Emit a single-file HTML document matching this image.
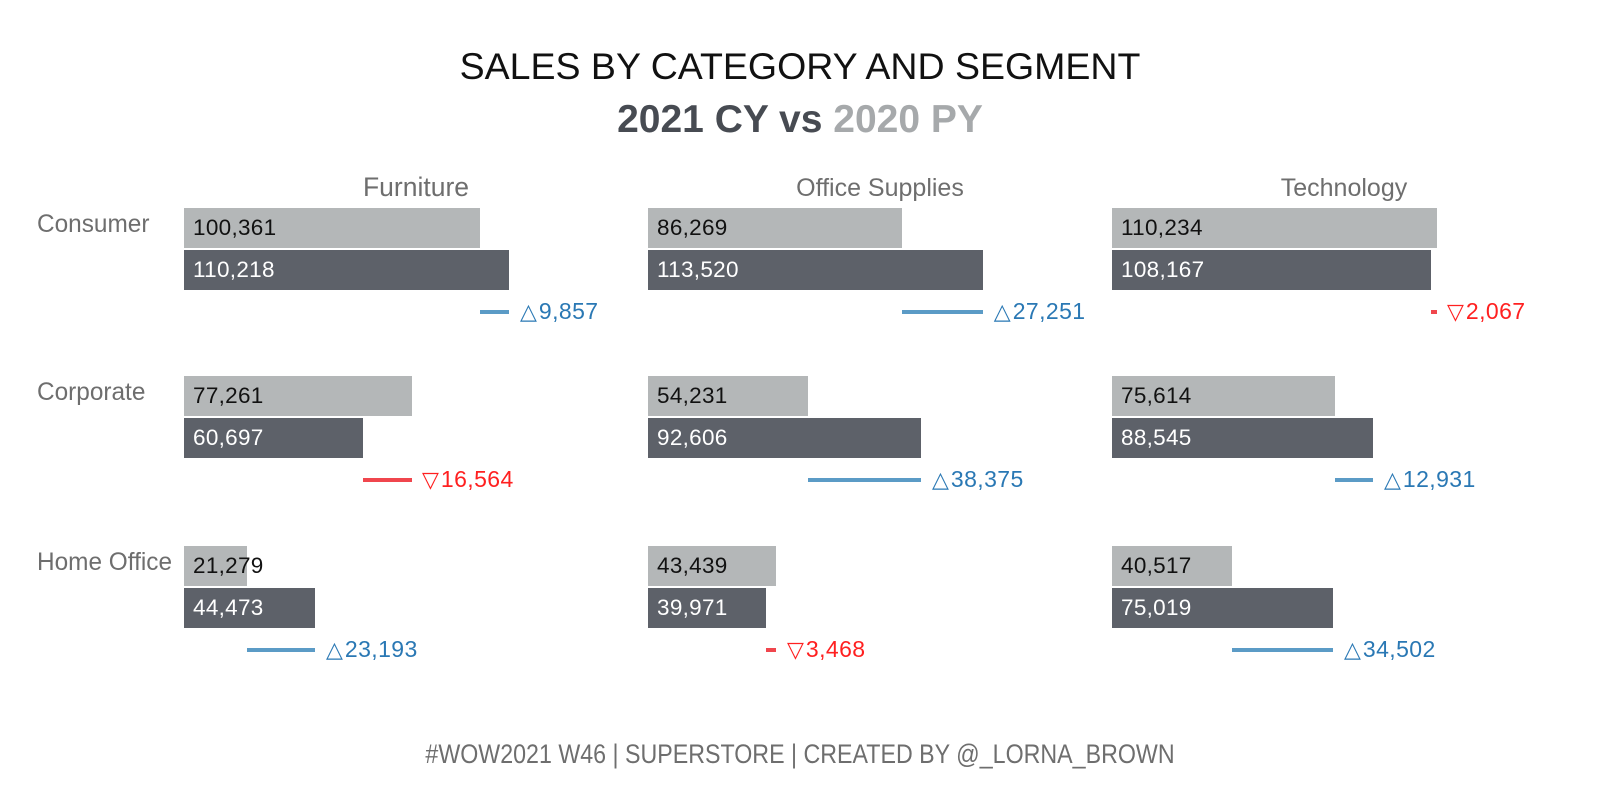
<!DOCTYPE html>
<html>
<head>
<meta charset="utf-8">
<style>
  html, body { margin:0; padding:0; }
  body { width:1600px; height:800px; background:#ffffff; position:relative; overflow:hidden;
         font-family:"Liberation Sans", "DejaVu Sans", sans-serif; }
  .abs { position:absolute; white-space:nowrap; }
  .title { left:0; width:1600px; text-align:center; top:47.5px; font-size:37.5px; line-height:37.5px; color:#111; }
  .sub { left:0; width:1600px; text-align:center; top:100.3px; font-size:39px; line-height:39px; font-weight:bold; }
  .footer { left:0; width:1600px; text-align:center; top:741px; font-size:27px; line-height:27px; color:#6e6e6e;
            transform:scaleX(0.86); transform-origin:800px 0; }
  .hdr { width:464px; text-align:center; top:175.8px; font-size:25px; line-height:25px; color:#6e6e6e; }
  .seg { left:37px; font-size:25px; line-height:25px; color:#6e6e6e; transform:scaleX(0.975); transform-origin:0 0; }
  .py { background:#b4b7b8; height:40px; }
  .cy { background:#5d6169; height:39.5px; }
  .lbl { font-size:22.5px; line-height:22.5px; letter-spacing:0.3px; }
  .lpy { color:#111; }
  .lcy { color:#fff; }
  .ln { height:4px; }
  .up { background:#5b9bc6; }
  .dn { background:#f0464d; }
  .dt { font-size:23px; line-height:23px; letter-spacing:0.4px; }
  .tu { color:#2a78b4; }
  .td { color:#ff2020; }
  .tri { font-family:"DejaVu Sans", sans-serif; font-size:22px; letter-spacing:0; margin-right:2px; }
</style>
</head>
<body>

<div class="abs title">SALES BY CATEGORY AND SEGMENT</div>
<div class="abs sub"><span style="color:#474b52">2021 CY vs</span> <span style="color:#a6a9ab">2020 PY</span></div>

<!-- column headers -->
<div class="abs hdr" style="left:184px; font-size:26.5px; top:174.6px;">Furniture</div>
<div class="abs hdr" style="left:648px">Office Supplies</div>
<div class="abs hdr" style="left:1112px">Technology</div>

<!-- segment labels -->
<div class="abs seg" style="top:211.8px">Consumer</div>
<div class="abs seg" style="top:379.8px">Corporate</div>
<div class="abs seg" style="top:549.8px">Home Office</div>

<!-- ================= ROW 1: Consumer (T=208) ================= -->
<div class="abs py" style="left:184px; top:208px; width:296px;"></div>
<div class="abs cy" style="left:184px; top:250px; width:325px;"></div>
<div class="abs lbl lpy" style="left:193px; top:217px;">100,361</div>
<div class="abs lbl lcy" style="left:193px; top:258.8px;">110,218</div>
<div class="abs ln up" style="left:480px; top:309.5px; width:29px;"></div>
<div class="abs dt tu" style="left:520px; top:300.2px;"><span class="tri">△</span>9,857</div>

<div class="abs py" style="left:648px; top:208px; width:254.4px;"></div>
<div class="abs cy" style="left:648px; top:250px; width:334.8px;"></div>
<div class="abs lbl lpy" style="left:657px; top:217px;">86,269</div>
<div class="abs lbl lcy" style="left:657px; top:258.8px;">113,520</div>
<div class="abs ln up" style="left:902.4px; top:309.5px; width:80.4px;"></div>
<div class="abs dt tu" style="left:993.8px; top:300.2px;"><span class="tri">△</span>27,251</div>

<div class="abs py" style="left:1112px; top:208px; width:325.1px;"></div>
<div class="abs cy" style="left:1112px; top:250px; width:319px;"></div>
<div class="abs lbl lpy" style="left:1121px; top:217px;">110,234</div>
<div class="abs lbl lcy" style="left:1121px; top:258.8px;">108,167</div>
<div class="abs ln dn" style="left:1431px; top:309.5px; width:6.1px;"></div>
<div class="abs dt td" style="left:1447px; top:300.2px;"><span class="tri">▽</span>2,067</div>

<!-- ================= ROW 2: Corporate (T=376) ================= -->
<div class="abs py" style="left:184px; top:376px; width:227.8px;"></div>
<div class="abs cy" style="left:184px; top:418px; width:179px;"></div>
<div class="abs lbl lpy" style="left:193px; top:385px;">77,261</div>
<div class="abs lbl lcy" style="left:193px; top:426.8px;">60,697</div>
<div class="abs ln dn" style="left:363px; top:477.5px; width:48.8px;"></div>
<div class="abs dt td" style="left:422px; top:468.2px;"><span class="tri">▽</span>16,564</div>

<div class="abs py" style="left:648px; top:376px; width:159.9px;"></div>
<div class="abs cy" style="left:648px; top:418px; width:273.1px;"></div>
<div class="abs lbl lpy" style="left:657px; top:385px;">54,231</div>
<div class="abs lbl lcy" style="left:657px; top:426.8px;">92,606</div>
<div class="abs ln up" style="left:807.9px; top:477.5px; width:113.2px;"></div>
<div class="abs dt tu" style="left:932px; top:468.2px;"><span class="tri">△</span>38,375</div>

<div class="abs py" style="left:1112px; top:376px; width:223px;"></div>
<div class="abs cy" style="left:1112px; top:418px; width:261.1px;"></div>
<div class="abs lbl lpy" style="left:1121px; top:385px;">75,614</div>
<div class="abs lbl lcy" style="left:1121px; top:426.8px;">88,545</div>
<div class="abs ln up" style="left:1335px; top:477.5px; width:38.1px;"></div>
<div class="abs dt tu" style="left:1384px; top:468.2px;"><span class="tri">△</span>12,931</div>

<!-- ================= ROW 3: Home Office (T=546) ================= -->
<div class="abs py" style="left:184px; top:546px; width:62.8px;"></div>
<div class="abs cy" style="left:184px; top:588px; width:131.2px;"></div>
<div class="abs lbl lpy" style="left:193px; top:555px;">21,279</div>
<div class="abs lbl lcy" style="left:193px; top:596.8px;">44,473</div>
<div class="abs ln up" style="left:246.8px; top:647.5px; width:68.4px;"></div>
<div class="abs dt tu" style="left:326px; top:638.2px;"><span class="tri">△</span>23,193</div>

<div class="abs py" style="left:648px; top:546px; width:128.1px;"></div>
<div class="abs cy" style="left:648px; top:588px; width:117.9px;"></div>
<div class="abs lbl lpy" style="left:657px; top:555px;">43,439</div>
<div class="abs lbl lcy" style="left:657px; top:596.8px;">39,971</div>
<div class="abs ln dn" style="left:765.9px; top:647.5px; width:10.2px;"></div>
<div class="abs dt td" style="left:787px; top:638.2px;"><span class="tri">▽</span>3,468</div>

<div class="abs py" style="left:1112px; top:546px; width:119.5px;"></div>
<div class="abs cy" style="left:1112px; top:588px; width:221.2px;"></div>
<div class="abs lbl lpy" style="left:1121px; top:555px;">40,517</div>
<div class="abs lbl lcy" style="left:1121px; top:596.8px;">75,019</div>
<div class="abs ln up" style="left:1231.5px; top:647.5px; width:101.7px;"></div>
<div class="abs dt tu" style="left:1344px; top:638.2px;"><span class="tri">△</span>34,502</div>

<div class="abs footer">#WOW2021 W46 | SUPERSTORE | CREATED BY @_LORNA_BROWN</div>

</body>
</html>
